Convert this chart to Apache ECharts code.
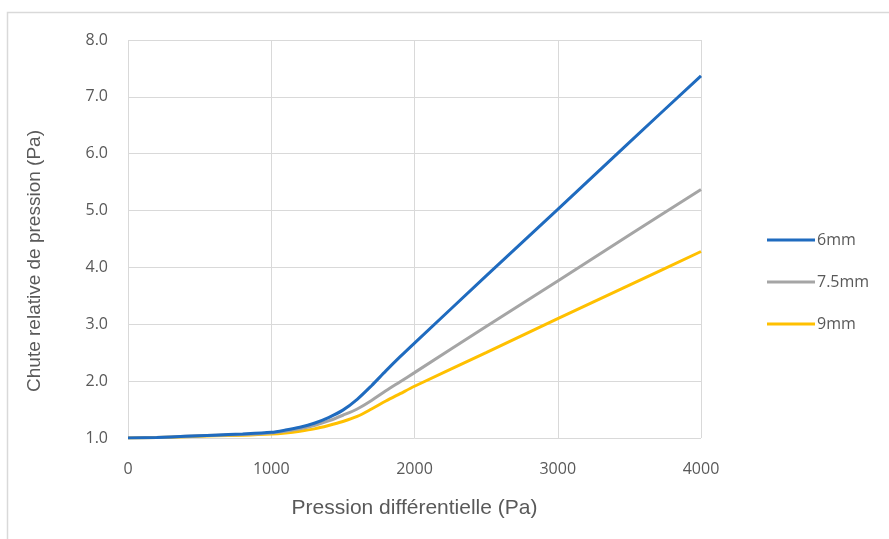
<!DOCTYPE html>
<html>
<head>
<meta charset="utf-8">
<script src="https://cdn.jsdelivr.net/npm/echarts@6/dist/echarts.min.js"></script>
<style>
html,body{margin:0;padding:0;background:#fff;}
#c{width:889px;height:539px;}
</style>
</head>
<body>
<div id="c"></div>
<script>
const pressures = [0,200,400,600,800,1000,1100,1200,1300,1400,1500,1600,1700,1800,1900,2000,2500,3000,3500,4000];
const s6mm  = [1.00,1.01,1.03,1.05,1.07,1.10,1.14,1.19,1.26,1.36,1.49,1.68,1.92,2.18,2.43,2.67,3.85,5.02,6.20,7.37];
const s75mm = [1.00,1.01,1.03,1.05,1.06,1.09,1.12,1.16,1.22,1.30,1.40,1.51,1.66,1.83,1.99,2.15,2.96,3.76,4.57,5.37];
const s9mm  = [1.00,1.01,1.02,1.04,1.05,1.07,1.09,1.12,1.16,1.22,1.29,1.38,1.51,1.65,1.78,1.91,2.50,3.10,3.69,4.28];
const seriesNames = ['6mm','7.5mm','9mm'];
const xTitle = 'Pression différentielle (Pa)';
const yTitle = 'Chute relative de pression (Pa)';

const colors = ['#1f6bbf','#a5a5a5','#ffc000'];
const allData = [s6mm, s75mm, s9mm];

const chart = echarts.init(document.getElementById('c'), null, {renderer:'canvas'});
chart.setOption({
  backgroundColor:'#fff',
  animation:false,
  graphic:[{type:'rect',shape:{x:7.5,y:12.5,width:900,height:600},style:{fill:'none',stroke:'#d9d9d9',lineWidth:1.5},silent:true}],
  grid:{left:128,right:188,top:40,bottom:101},
  legend:{
    orient:'vertical', left:762, top:225,
    icon:'rect', itemWidth:48, itemHeight:3, itemGap:22,
    textStyle:{color:'#595959',fontSize:16,fontFamily:'Open Sans',lineHeight:20,padding:[0,0,0,-3]},
    data:seriesNames
  },
  xAxis:{
    type:'value', min:0, max:4000, interval:1000,
    name:xTitle, nameLocation:'middle', nameGap:60,
    nameTextStyle:{color:'#595959',fontSize:21,fontFamily:'Liberation Sans'},
    axisLine:{show:false}, axisTick:{show:false},
    axisLabel:{color:'#595959',fontSize:16,fontFamily:'Open Sans',margin:23,formatter:v=>String(v)},
    splitLine:{show:true,lineStyle:{color:'#d9d9d9',width:1}}
  },
  yAxis:{
    type:'value', min:1, max:8, interval:1,
    name:yTitle, nameLocation:'middle', nameGap:84,
    nameTextStyle:{color:'#595959',fontSize:19,fontFamily:'Liberation Sans',padding:[0,44,0,0]},
    axisLine:{show:false}, axisTick:{show:false},
    axisLabel:{color:'#595959',fontSize:16,fontFamily:'Open Sans',margin:20,formatter:v=>v.toFixed(1)},
    splitLine:{show:true,lineStyle:{color:'#d9d9d9',width:1}}
  },
  series: seriesNames.map((n,i)=>({
    name:n, type:'line', showSymbol:false, symbol:'none',
    smooth:0.3,
    lineStyle:{color:colors[i],width:3},
    itemStyle:{color:colors[i]},
    data: pressures.map((p,j)=>[p, allData[i][j]]),
    z: 10 - i
  }))
});
</script>
</body>
</html>
